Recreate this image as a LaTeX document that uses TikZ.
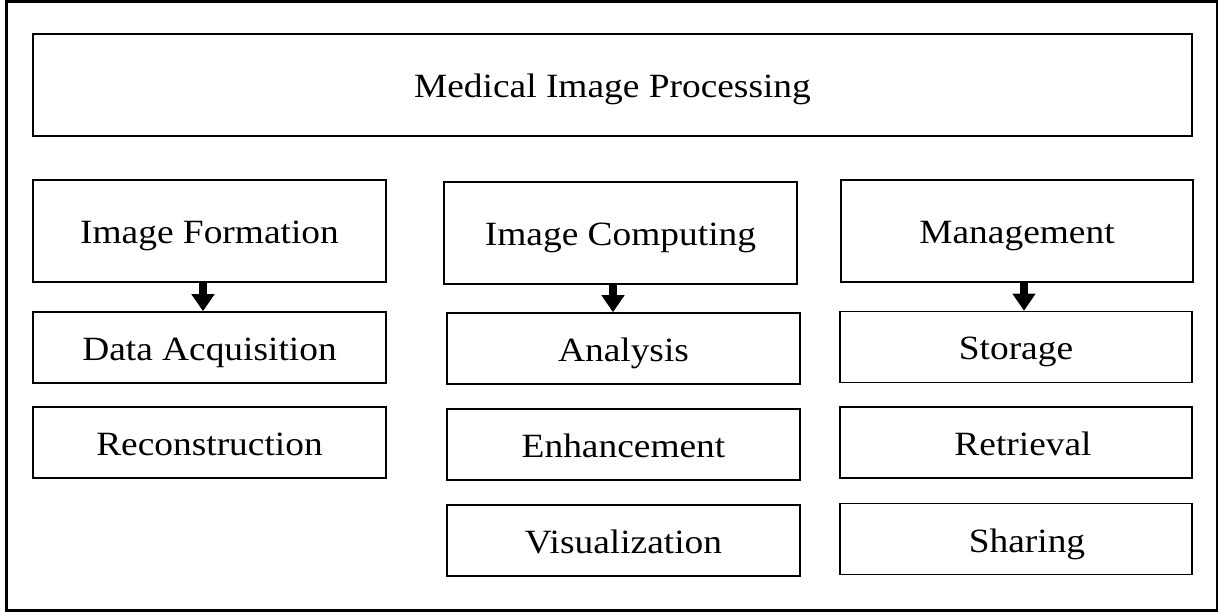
\documentclass[tikz,border=0pt]{standalone}
\usepackage{fontspec}
\newfontfamily\boxfont[FakeStretch=1.1]{Liberation Serif}
\usetikzlibrary{arrows.meta}

\begin{document}
\begin{tikzpicture}[x=1pt,y=-1pt,
  box/.style={draw=black, line width=1.5pt, rectangle, inner sep=0pt,
    font=\boxfont\fontsize{34}{40}\selectfont, text height=32pt, text depth=6pt},
  tallbox/.style={box, minimum height=102pt},
  lowbox/.style={box, minimum height=71pt},
  fatarrow/.style={line width=8.5pt, -{Triangle[width=22pt,length=17pt]}}
]
\useasboundingbox (0,0) rectangle (1219,612);
% outer frame
\draw[line width=2.2pt] (6.5,1.5) rectangle (1217,610.5);

% title bar
\node[tallbox, minimum width=1159pt] (mip) at (612.5,85) {Medical Image Processing};

% column heads
\node[tallbox, minimum width=353pt] (form) at (209.5,231) {Image Formation};
\node[tallbox, minimum width=353pt] (comp) at (620.5,233) {Image Computing};
\node[tallbox, minimum width=352pt] (mgmt) at (1017,231) {Management};

% formation column
\node[lowbox, minimum width=353pt] (acq) at (209.5,347.5) {Data Acquisition};
\node[lowbox, minimum width=353pt] (rec) at (209.5,442.5) {Reconstruction};

% computing column
\node[lowbox, minimum width=353pt] (ana) at (623.5,348.5) {Analysis};
\node[lowbox, minimum width=353pt] (enh) at (623.5,444.5) {Enhancement};
\node[lowbox, minimum width=353pt] (vis) at (623.5,540.5) {Visualization};

% management column
\node[lowbox, minimum width=352pt] (sto) at (1016,347) {Storage};
\node[lowbox, minimum width=352pt] (ret) at (1016,442.5) {\hspace*{14pt}Retrieval};
\node[lowbox, minimum width=352pt] (sha) at (1016,539) {\hspace*{22pt}Sharing};

% arrows from heads to first sub-box
\draw[fatarrow] ([xshift=-6.5pt]form.south) -- ([xshift=-6.5pt]form.south |- acq.north);
\draw[fatarrow] ([xshift=-7.5pt]comp.south) -- ([xshift=-7.5pt]comp.south |- ana.north);
\draw[fatarrow] ([xshift=7pt]mgmt.south) -- ([xshift=7pt]mgmt.south |- sto.north);
\end{tikzpicture}
\end{document}
